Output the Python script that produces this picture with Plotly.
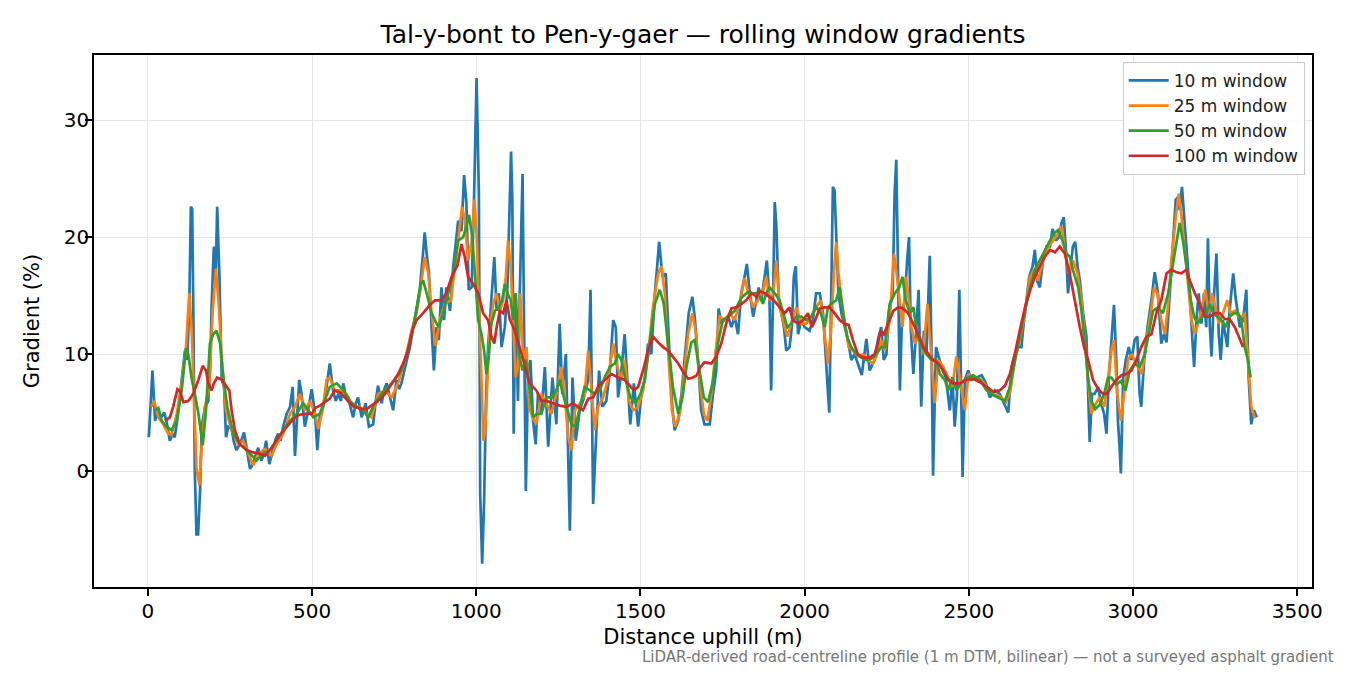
import plotly.graph_objects as go

# ---------------- data ----------------
d10 = [3, 14, 22, 30, 40, 50, 57, 67, 75, 82, 90, 98, 106, 113, 120, 126, 131, 135, 138, 143, 148, 153, 159, 164, 174, 184, 190, 194, 201, 206, 211, 218, 225, 232, 238, 245, 255, 262, 270, 280, 293, 301, 311, 318, 326, 336, 346, 353, 360, 370, 382, 390, 397, 404, 412, 423, 433, 441, 448, 455, 461, 468, 478, 488, 499, 509, 516, 524, 534, 544, 554, 564, 572, 580, 588, 595, 602, 610, 618, 625, 633, 640, 651, 663, 673, 686, 693, 701, 712, 720, 727, 737, 747, 757, 765, 772, 783, 790, 798, 808, 818, 828, 838, 843, 849, 856, 864, 871, 879, 886, 894, 902, 909, 920, 930, 940, 945, 955, 963, 970, 977, 986, 993, 1001, 1008, 1012, 1018, 1024, 1030, 1036, 1044, 1055, 1062, 1069, 1077, 1087, 1095, 1100, 1106, 1110, 1114, 1120, 1127, 1132, 1141, 1145, 1151, 1158, 1165, 1173, 1181, 1188, 1198, 1209, 1219, 1232, 1244, 1254, 1262, 1273, 1285, 1293, 1303, 1315, 1325, 1341, 1348, 1356, 1366, 1374, 1384, 1396, 1407, 1417, 1425, 1432, 1442, 1452, 1459, 1469, 1480, 1493, 1503, 1513, 1523, 1533, 1544, 1557, 1567, 1577, 1587, 1597, 1604, 1615, 1625, 1635, 1647, 1658, 1666, 1675, 1685, 1695, 1711, 1721, 1731, 1738, 1746, 1756, 1767, 1777, 1787, 1797, 1807, 1817, 1824, 1832, 1843, 1853, 1860, 1868, 1878, 1885, 1893, 1898, 1904, 1909, 1914, 1921, 1929, 1937, 1944, 1954, 1961, 1967, 1973, 1980, 1990, 2000, 2015, 2025, 2035, 2046, 2056, 2066, 2071, 2075, 2081, 2086, 2091, 2096, 2103, 2112, 2122, 2132, 2142, 2152, 2162, 2174, 2188, 2198, 2213, 2223, 2233, 2241, 2249, 2257, 2268, 2274, 2279, 2284, 2290, 2297, 2305, 2312, 2318, 2323, 2331, 2339, 2347, 2355, 2363, 2371, 2381, 2386, 2391, 2400, 2410, 2420, 2430, 2442, 2450, 2457, 2464, 2471, 2476, 2481, 2488, 2498, 2508, 2523, 2539, 2552, 2564, 2579, 2594, 2607, 2620, 2630, 2640, 2650, 2660, 2668, 2676, 2684, 2694, 2701, 2708, 2716, 2726, 2737, 2747, 2755, 2765, 2775, 2782, 2789, 2795, 2802, 2810, 2817, 2824, 2831, 2838, 2848, 2858, 2863, 2868, 2875, 2883, 2894, 2902, 2912, 2919, 2927, 2934, 2942, 2949, 2954, 2959, 2963, 2970, 2978, 2987, 2995, 3005, 3013, 3020, 3025, 3034, 3044, 3056, 3066, 3076, 3086, 3094, 3102, 3112, 3122, 3130, 3137, 3142, 3149, 3157, 3166, 3173, 3180, 3186, 3193, 3200, 3208, 3216, 3223, 3228, 3234, 3239, 3247, 3254, 3261, 3267, 3274, 3281, 3287, 3294, 3305, 3312, 3318, 3325, 3335, 3345, 3352, 3360, 3368, 3377]
g10 = [2.9, 8.6, 4.3, 5.2, 4.6, 5.0, 4.2, 2.6, 3.2, 2.9, 4.5, 6.6, 8.5, 10.3, 9.5, 14.0, 22.6, 22.4, 15.0, 0.0, -5.4, -5.4, -1.7, 3.8, 5.5, 6.0, 9.0, 14.0, 19.2, 15.7, 22.6, 16.6, 7.8, 7.2, 2.9, 3.8, 3.6, 2.5, 1.8, 2.3, 3.3, 2.0, 0.2, 0.5, 1.2, 2.0, 0.9, 1.5, 2.6, 0.6, 2.0, 2.8, 3.2, 2.6, 3.8, 4.9, 5.5, 7.2, 1.3, 5.0, 7.8, 6.6, 3.8, 5.2, 7.0, 4.9, 1.8, 4.9, 5.5, 7.2, 9.2, 6.9, 6.0, 6.6, 6.0, 7.5, 6.5, 6.3, 5.5, 4.6, 5.8, 6.3, 4.6, 5.8, 3.8, 4.0, 5.8, 7.3, 5.8, 7.0, 7.5, 6.4, 5.2, 7.8, 7.0, 7.5, 8.9, 9.5, 10.6, 12.3, 14.0, 15.5, 18.6, 20.4, 18.6, 16.9, 12.3, 8.6, 12.3, 11.2, 15.7, 12.9, 15.7, 13.7, 17.5, 20.0, 21.4, 20.5, 25.3, 22.9, 15.5, 15.7, 22.9, 33.6, 23.7, -1.9, -7.9, -2.5, 6.6, 10.6, 14.0, 18.3, 13.7, 15.2, 10.6, 12.3, 15.7, 22.3, 27.3, 23.0, 3.2, 15.2, 6.0, 14.5, 25.4, 14.0, -1.7, 8.6, 9.5, 4.3, 2.3, 6.6, 4.9, 8.9, 2.1, 8.0, 4.0, 12.6, 6.6, 10.0, -5.1, 8.0, 2.6, 5.2, 6.0, 7.8, 15.5, -2.8, 4.3, 8.6, 5.5, 6.0, 8.6, 12.9, 12.3, 6.3, 8.6, 11.7, 8.3, 4.0, 7.5, 3.8, 6.6, 7.8, 10.9, 10.0, 15.2, 19.6, 16.6, 16.9, 10.9, 5.5, 3.5, 4.3, 6.6, 9.5, 13.5, 14.9, 13.0, 9.5, 5.2, 4.0, 4.0, 6.6, 8.6, 13.9, 12.7, 12.9, 13.2, 12.3, 13.2, 11.7, 15.2, 16.6, 17.7, 15.5, 13.2, 14.6, 15.7, 14.6, 16.6, 18.0, 14.6, 6.9, 15.2, 23.0, 20.9, 14.6, 13.5, 12.3, 10.3, 10.6, 12.3, 16.6, 17.5, 11.7, 12.9, 12.3, 12.0, 12.9, 15.2, 15.2, 13.5, 9.5, 6.6, 5.0, 15.2, 24.3, 24.0, 19.7, 15.2, 13.5, 12.3, 11.2, 9.5, 10.0, 9.2, 8.2, 11.3, 8.6, 9.5, 11.2, 12.3, 9.5, 10.0, 13.7, 15.2, 23.7, 26.6, 18.0, 6.9, 13.7, 14.6, 18.0, 20.0, 12.3, 8.3, 11.7, 15.5, 5.5, 12.0, 10.0, 18.4, 10.9, -0.4, 10.6, 9.7, 8.6, 8.0, 5.2, 8.0, 3.8, 6.6, 15.5, 8.0, -0.5, 7.8, 8.6, 7.8, 8.0, 8.2, 7.5, 6.3, 6.9, 6.6, 5.8, 5.0, 8.9, 10.0, 10.6, 10.6, 12.9, 14.6, 16.6, 17.5, 18.9, 16.3, 15.7, 18.0, 19.2, 19.2, 20.7, 19.7, 20.0, 21.2, 21.7, 19.2, 15.2, 17.5, 19.2, 19.6, 17.5, 16.3, 13.5, 11.5, 6.6, 2.5, 6.6, 6.6, 7.2, 5.8, 4.9, 3.2, 8.3, 10.9, 14.2, 9.5, 4.3, 2.1, -0.2, 8.0, 9.5, 10.6, 9.5, 11.2, 11.5, 6.6, 5.5, 9.5, 12.3, 14.6, 17.0, 15.2, 10.9, 11.7, 11.0, 15.2, 19.2, 23.2, 23.4, 22.3, 24.3, 21.4, 18.0, 15.2, 11.5, 8.9, 12.9, 15.2, 12.6, 15.2, 12.3, 19.9, 12.3, 9.8, 15.2, 18.6, 11.7, 9.5, 12.9, 11.7, 10.6, 13.7, 16.9, 14.9, 13.5, 12.3, 12.9, 15.5, 8.0, 4.0, 5.2, 4.6]

d25 = [11, 19, 32, 47, 62, 72, 88, 103, 116, 126, 133, 141, 148, 157, 164, 174, 187, 197, 207, 215, 225, 238, 255, 275, 290, 306, 321, 336, 357, 377, 392, 412, 433, 448, 463, 478, 494, 509, 519, 532, 544, 554, 569, 590, 605, 625, 646, 666, 681, 701, 722, 742, 762, 783, 803, 818, 831, 843, 854, 864, 876, 889, 904, 923, 937, 948, 957, 965, 975, 986, 994, 1001, 1008, 1016, 1022, 1028, 1034, 1041, 1052, 1062, 1072, 1082, 1090, 1097, 1105, 1112, 1120, 1127, 1134, 1143, 1153, 1161, 1171, 1183, 1198, 1214, 1229, 1244, 1259, 1269, 1280, 1290, 1300, 1315, 1330, 1341, 1351, 1361, 1371, 1386, 1401, 1417, 1429, 1442, 1452, 1465, 1478, 1493, 1508, 1523, 1538, 1554, 1564, 1574, 1584, 1596, 1606, 1620, 1632, 1645, 1658, 1668, 1680, 1693, 1704, 1716, 1728, 1741, 1756, 1772, 1787, 1802, 1817, 1829, 1843, 1858, 1873, 1883, 1893, 1904, 1914, 1924, 1934, 1947, 1959, 1975, 1990, 2005, 2020, 2035, 2049, 2061, 2071, 2081, 2089, 2096, 2103, 2112, 2122, 2134, 2147, 2162, 2178, 2193, 2208, 2221, 2233, 2244, 2259, 2272, 2280, 2290, 2298, 2308, 2315, 2325, 2336, 2349, 2361, 2374, 2386, 2396, 2407, 2422, 2437, 2450, 2462, 2473, 2488, 2498, 2513, 2534, 2554, 2574, 2594, 2613, 2627, 2640, 2655, 2671, 2686, 2698, 2711, 2726, 2742, 2757, 2772, 2782, 2792, 2804, 2817, 2831, 2843, 2853, 2863, 2873, 2885, 2899, 2912, 2924, 2934, 2942, 2952, 2963, 2973, 2985, 2995, 3005, 3015, 3027, 3041, 3054, 3064, 3074, 3086, 3097, 3107, 3117, 3130, 3139, 3147, 3157, 3168, 3178, 3188, 3198, 3210, 3220, 3230, 3241, 3251, 3261, 3274, 3287, 3297, 3310, 3322, 3332, 3340, 3350, 3360, 3371]
g25 = [5.5, 6.0, 4.6, 4.0, 3.2, 3.1, 4.9, 7.5, 10.6, 15.2, 12.3, 6.6, 0.3, -1.2, 2.3, 5.5, 7.2, 13.5, 17.3, 14.6, 9.5, 5.2, 3.5, 2.3, 2.6, 1.5, 0.5, 1.5, 1.9, 1.3, 2.3, 3.2, 4.9, 5.5, 6.6, 5.2, 6.0, 4.9, 3.6, 5.2, 7.8, 8.0, 6.9, 6.9, 6.6, 5.5, 5.5, 4.9, 4.6, 6.6, 6.9, 6.3, 7.5, 9.5, 12.0, 13.5, 15.7, 18.3, 16.9, 13.5, 10.7, 12.9, 14.3, 14.6, 18.0, 20.3, 22.6, 21.4, 18.0, 19.7, 23.2, 20.3, 13.7, 6.6, 2.6, 3.7, 8.0, 12.3, 14.3, 15.2, 13.7, 14.6, 16.6, 19.7, 17.4, 13.5, 8.0, 8.9, 15.2, 9.5, 10.6, 5.5, 4.6, 4.0, 6.6, 5.7, 4.9, 6.6, 8.9, 6.6, 2.9, 1.8, 5.2, 5.7, 6.6, 10.3, 7.2, 3.5, 5.5, 6.3, 7.8, 10.9, 9.0, 7.8, 9.5, 6.0, 5.2, 5.5, 6.9, 9.8, 14.0, 16.9, 17.5, 15.2, 10.3, 5.2, 3.8, 4.9, 8.0, 11.7, 13.5, 12.0, 7.8, 4.9, 4.3, 6.6, 10.0, 13.2, 12.9, 13.5, 12.9, 14.3, 16.5, 15.2, 14.0, 14.6, 15.4, 16.6, 14.6, 15.2, 18.0, 14.0, 12.9, 11.5, 12.6, 14.0, 12.6, 12.6, 13.2, 14.0, 14.6, 11.7, 9.2, 12.3, 16.9, 19.6, 16.9, 14.6, 12.9, 10.6, 10.3, 9.8, 10.0, 9.5, 9.2, 10.0, 11.2, 10.3, 12.9, 18.6, 16.9, 14.6, 12.3, 16.6, 15.2, 12.3, 10.9, 11.7, 10.0, 14.3, 9.5, 5.8, 9.5, 8.9, 8.0, 7.2, 9.8, 7.8, 5.2, 8.3, 8.0, 7.9, 7.2, 6.6, 6.4, 5.9, 6.9, 9.5, 11.2, 13.5, 16.6, 17.2, 16.3, 18.0, 19.2, 19.7, 20.3, 20.9, 19.2, 16.9, 18.0, 16.9, 14.6, 10.9, 7.8, 4.9, 5.7, 6.3, 5.5, 7.8, 10.3, 11.2, 6.6, 4.3, 6.6, 9.5, 10.0, 9.5, 8.9, 8.3, 11.2, 13.5, 15.7, 15.2, 12.9, 11.7, 14.3, 18.0, 21.7, 23.7, 22.0, 19.2, 15.7, 12.9, 11.7, 12.6, 14.0, 15.5, 13.5, 15.2, 14.0, 12.6, 13.5, 14.6, 13.5, 13.7, 13.2, 13.2, 13.5, 9.5, 5.5, 4.5]

d50 = [22, 32, 42, 57, 72, 88, 103, 116, 123, 133, 143, 154, 167, 177, 189, 199, 209, 220, 230, 242, 260, 280, 301, 321, 331, 351, 372, 392, 412, 433, 453, 473, 488, 504, 524, 539, 554, 575, 595, 615, 635, 656, 671, 691, 712, 732, 752, 772, 788, 803, 818, 831, 838, 849, 864, 879, 886, 899, 915, 930, 945, 960, 970, 978, 988, 996, 1006, 1016, 1024, 1031, 1038, 1046, 1057, 1069, 1079, 1087, 1095, 1105, 1112, 1120, 1130, 1141, 1151, 1163, 1173, 1185, 1198, 1214, 1229, 1244, 1254, 1264, 1277, 1290, 1302, 1315, 1330, 1346, 1361, 1376, 1391, 1407, 1422, 1432, 1442, 1455, 1469, 1486, 1500, 1513, 1528, 1544, 1559, 1571, 1584, 1599, 1615, 1628, 1640, 1655, 1665, 1680, 1693, 1706, 1721, 1736, 1751, 1767, 1787, 1807, 1827, 1843, 1858, 1873, 1883, 1893, 1909, 1924, 1937, 1947, 1959, 1975, 1990, 2005, 2020, 2035, 2049, 2061, 2071, 2081, 2096, 2107, 2117, 2130, 2142, 2157, 2173, 2188, 2203, 2218, 2233, 2244, 2259, 2275, 2288, 2298, 2308, 2320, 2331, 2343, 2356, 2371, 2386, 2400, 2412, 2427, 2437, 2450, 2462, 2478, 2493, 2513, 2534, 2554, 2574, 2594, 2610, 2625, 2640, 2655, 2671, 2686, 2701, 2716, 2731, 2747, 2762, 2772, 2785, 2797, 2808, 2817, 2833, 2843, 2853, 2863, 2873, 2885, 2899, 2912, 2924, 2934, 2949, 2963, 2977, 2990, 3005, 3020, 3036, 3051, 3061, 3076, 3091, 3107, 3122, 3135, 3142, 3152, 3163, 3176, 3186, 3196, 3210, 3223, 3234, 3244, 3257, 3269, 3281, 3294, 3308, 3320, 3330, 3340, 3350, 3358]
g50 = [5.2, 5.4, 4.3, 3.8, 3.5, 4.3, 6.9, 10.5, 10.0, 8.0, 6.6, 4.9, 2.2, 5.2, 10.9, 11.7, 12.0, 10.9, 8.0, 5.5, 3.2, 2.3, 1.8, 1.2, 0.9, 1.5, 1.8, 2.6, 3.5, 4.3, 4.9, 5.8, 5.2, 4.6, 4.9, 6.0, 7.2, 7.5, 6.9, 6.0, 5.5, 5.2, 4.6, 5.8, 6.6, 7.2, 7.8, 8.6, 10.0, 11.7, 13.7, 16.0, 16.3, 15.2, 13.5, 12.6, 12.3, 13.5, 15.2, 16.9, 19.7, 20.0, 20.9, 21.9, 20.0, 16.6, 12.9, 11.7, 10.3, 8.3, 9.8, 12.6, 13.7, 14.0, 14.6, 16.0, 15.2, 14.6, 12.9, 15.2, 10.0, 8.6, 9.5, 6.9, 4.6, 4.9, 4.9, 6.3, 6.3, 6.9, 7.8, 6.6, 5.2, 4.0, 3.8, 5.5, 7.2, 6.9, 6.6, 6.9, 8.0, 8.9, 9.2, 10.0, 9.5, 7.8, 6.3, 5.8, 6.6, 7.8, 11.2, 14.3, 15.5, 14.3, 10.9, 7.2, 4.9, 6.3, 8.9, 11.0, 11.2, 8.6, 6.3, 5.9, 7.7, 10.9, 12.9, 13.2, 13.7, 14.8, 15.3, 15.2, 15.2, 14.3, 15.2, 15.7, 15.2, 14.6, 13.2, 12.3, 12.6, 13.2, 13.2, 12.9, 13.2, 14.0, 13.5, 12.3, 14.0, 14.3, 14.6, 15.7, 13.5, 11.4, 10.6, 10.0, 9.7, 9.5, 9.6, 10.0, 10.6, 10.6, 14.3, 15.2, 15.7, 16.6, 14.6, 13.5, 14.0, 11.7, 10.7, 10.0, 9.5, 9.5, 8.3, 7.8, 6.9, 8.0, 6.9, 7.6, 7.9, 8.2, 7.8, 6.9, 6.5, 6.2, 6.0, 7.2, 9.5, 11.5, 13.7, 15.7, 17.2, 18.0, 18.9, 19.7, 20.4, 20.6, 19.7, 18.6, 18.3, 17.2, 15.7, 13.7, 11.0, 8.0, 6.0, 5.3, 5.7, 6.6, 8.0, 8.0, 7.4, 7.7, 6.9, 8.6, 9.2, 8.9, 10.0, 12.3, 13.7, 14.0, 13.5, 15.2, 18.0, 20.0, 21.2, 19.7, 17.5, 14.6, 13.2, 12.6, 13.2, 13.5, 14.3, 13.5, 13.2, 12.9, 12.3, 13.2, 13.5, 13.5, 12.9, 10.6, 9.5, 8.0]

d100 = [52, 67, 77, 90, 98, 108, 123, 138, 154, 167, 177, 184, 194, 201, 211, 225, 238, 248, 255, 265, 280, 301, 321, 341, 357, 377, 397, 417, 438, 458, 478, 499, 509, 524, 544, 554, 569, 585, 600, 615, 630, 651, 666, 681, 701, 722, 742, 762, 777, 793, 805, 818, 838, 859, 874, 894, 909, 925, 943, 955, 965, 975, 991, 1006, 1021, 1036, 1046, 1055, 1062, 1072, 1082, 1092, 1102, 1117, 1132, 1148, 1163, 1183, 1198, 1214, 1234, 1254, 1275, 1295, 1310, 1325, 1341, 1356, 1371, 1391, 1412, 1432, 1452, 1467, 1480, 1493, 1508, 1523, 1538, 1554, 1569, 1584, 1599, 1615, 1630, 1645, 1660, 1672, 1680, 1695, 1716, 1731, 1746, 1761, 1777, 1792, 1807, 1822, 1838, 1853, 1863, 1878, 1893, 1909, 1924, 1939, 1954, 1964, 1980, 1995, 2010, 2022, 2032, 2046, 2061, 2076, 2091, 2107, 2122, 2134, 2147, 2162, 2178, 2198, 2213, 2223, 2231, 2241, 2254, 2270, 2285, 2300, 2315, 2331, 2346, 2361, 2376, 2391, 2407, 2422, 2437, 2452, 2473, 2493, 2513, 2534, 2554, 2574, 2594, 2610, 2625, 2640, 2655, 2671, 2686, 2701, 2716, 2731, 2747, 2762, 2777, 2792, 2807, 2822, 2838, 2851, 2863, 2878, 2894, 2909, 2919, 2934, 2949, 2965, 2980, 2995, 3010, 3025, 3041, 3056, 3071, 3086, 3102, 3117, 3132, 3147, 3162, 3173, 3188, 3203, 3218, 3234, 3249, 3264, 3279, 3294, 3310, 3322, 3335]
g100 = [4.3, 4.6, 5.5, 7.0, 6.8, 5.9, 6.0, 6.6, 7.8, 9.0, 8.6, 7.5, 6.9, 7.5, 8.0, 7.8, 7.3, 6.9, 5.2, 3.5, 2.3, 1.8, 1.6, 1.5, 1.3, 2.0, 2.9, 3.6, 4.3, 4.8, 4.9, 4.9, 5.4, 5.6, 6.0, 6.2, 6.9, 6.7, 6.3, 5.8, 5.5, 5.3, 5.3, 5.6, 6.0, 6.6, 7.5, 8.3, 9.2, 10.3, 12.0, 12.9, 13.5, 14.2, 14.6, 14.6, 15.2, 16.6, 17.6, 19.4, 18.3, 16.6, 16.0, 15.2, 13.5, 12.9, 11.5, 10.9, 12.3, 13.7, 13.5, 14.6, 13.0, 12.0, 10.6, 8.9, 7.5, 6.9, 6.0, 6.0, 5.8, 5.6, 5.5, 5.8, 5.5, 5.2, 6.2, 6.3, 7.2, 7.8, 8.3, 8.0, 7.8, 7.3, 6.9, 7.2, 8.6, 10.3, 11.5, 11.0, 10.6, 10.3, 9.8, 9.2, 8.5, 7.9, 8.0, 8.2, 8.8, 9.3, 9.2, 9.8, 10.9, 12.6, 13.9, 14.0, 14.3, 14.6, 15.2, 14.9, 15.4, 15.2, 14.9, 14.5, 14.0, 13.5, 14.0, 12.9, 12.6, 12.9, 13.5, 12.3, 12.9, 13.9, 14.0, 14.0, 13.5, 12.9, 12.6, 12.5, 11.2, 10.0, 9.7, 9.7, 10.0, 10.9, 12.0, 11.7, 12.6, 13.7, 14.0, 13.9, 13.5, 12.6, 11.7, 10.6, 10.0, 9.5, 9.2, 8.6, 7.8, 7.5, 7.5, 7.8, 7.9, 7.6, 7.2, 6.8, 6.9, 7.3, 8.3, 10.0, 12.0, 14.0, 15.4, 16.6, 17.5, 18.3, 18.9, 18.7, 19.2, 18.6, 16.9, 14.6, 12.3, 10.6, 9.5, 7.8, 7.0, 6.6, 6.6, 7.2, 7.8, 8.2, 8.3, 8.6, 9.5, 10.6, 11.5, 11.7, 13.5, 14.6, 16.9, 17.2, 17.0, 16.9, 17.2, 16.3, 15.2, 14.3, 13.2, 13.2, 13.5, 13.5, 13.0, 13.0, 12.3, 11.5, 10.6]

series_names = ["10 m window", "25 m window", "50 m window", "100 m window"]
series_colors = ["#1f77b4", "#ff7f0e", "#2ca02c", "#d62728"]
x_ticks = [0, 500, 1000, 1500, 2000, 2500, 3000, 3500]
y_ticks = [0, 10, 20, 30]

title_text = "Tal-y-bont to Pen-y-gaer \u2014 rolling window gradients"
x_title = "Distance uphill (m)"
y_title = "Gradient (%)"
footnote = "LiDAR-derived road-centreline profile (1 m DTM, bilinear) \u2014 not a surveyed asphalt gradient"

# ---------------- figure ----------------
# The page body has an 8 px margin, so the figure is sized and offset for that.
FONT = "DejaVu Sans"
W, H = 1334, 659
ML, MR, MT, MB = 86, 30, 47, 80
plot_h = H - MT - MB

fig = go.Figure()
for xs, ys, name, col in zip([d10, d25, d50, d100], [g10, g25, g50, g100], series_names, series_colors):
    fig.add_trace(go.Scatter(x=xs, y=ys, mode="lines", name=name,
                             line=dict(color=col, width=2.7)))

axis_common = dict(
    showgrid=True, gridcolor="#e6e6e6", gridwidth=1.4,
    showline=True, linecolor="black", linewidth=1.6, mirror=True,
    ticks="outside", ticklen=7, tickwidth=1.6, tickcolor="black",
    zeroline=False, tickfont=dict(family=FONT, size=20, color="black"),
)

fig.update_layout(
    width=W, height=H,
    margin=dict(l=ML, r=MR, t=MT, b=MB),
    paper_bgcolor="white", plot_bgcolor="white",
    font=dict(family=FONT, color="black"),
    title=dict(text=title_text, x=0.5, xref="paper", y=1 - 26 / H, yref="container",
               xanchor="center", yanchor="middle", font=dict(family=FONT, size=25, color="black")),
    xaxis=dict(range=[-164, 3545], tickvals=x_ticks, ticklabelstandoff=-2,
               title=dict(text=x_title, font=dict(family=FONT, size=21, color="black"), standoff=8),
               **axis_common),
    yaxis=dict(range=[-9.9, 35.56], tickvals=y_ticks, ticklabelstandoff=-8,
               title=dict(text=y_title, font=dict(family=FONT, size=21, color="black"), standoff=18),
               **axis_common),
    legend=dict(x=0.994, xanchor="right", y=0.987, yanchor="top",
                bgcolor="rgba(255,255,255,0.85)", bordercolor="#cccccc", borderwidth=1,
                font=dict(family=FONT, size=17, color="#222222"), tracegroupgap=0,
                itemwidth=40),
    showlegend=True,
)

fig.add_annotation(text=footnote, xref="paper", yref="paper",
                   x=1.0197, y=(H - MB - 649) / plot_h,
                   xanchor="right", yanchor="middle", showarrow=False,
                   font=dict(family=FONT, size=15, color="#777777"))

fig.write_html("out.html")
